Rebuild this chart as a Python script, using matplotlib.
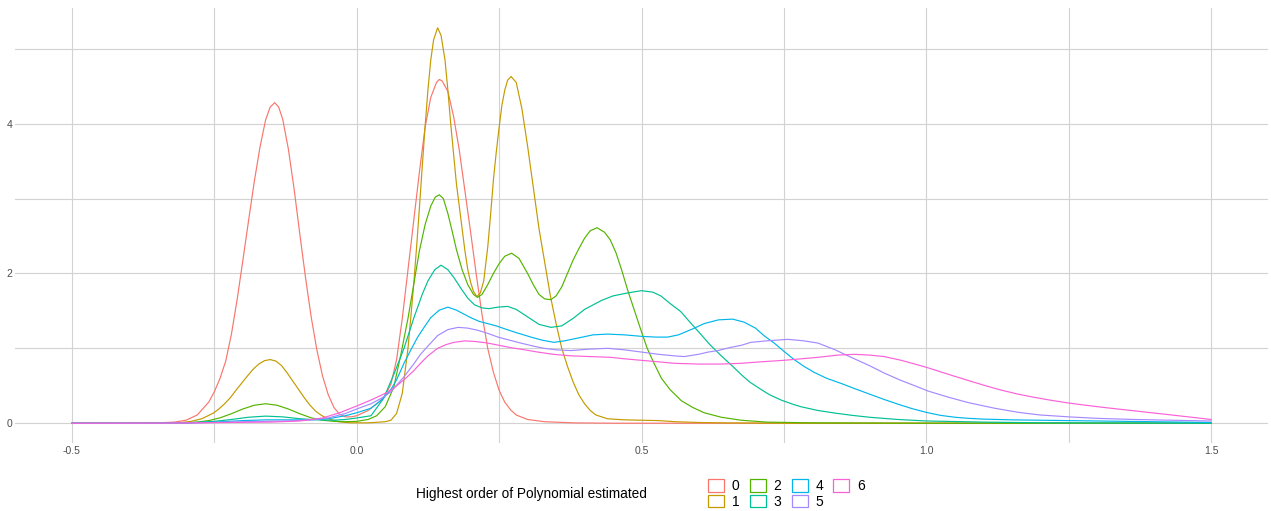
import matplotlib
matplotlib.use("Agg")
import matplotlib.pyplot as plt
from matplotlib.patches import Patch

plt.rcParams['font.family'] = ['Liberation Sans', 'DejaVu Sans']

# densities of the estimated value, one per polynomial order
x_0 = [-0.5, -0.4, -0.35, -0.32, -0.30, -0.28, -0.26, -0.25, -0.24, -0.23, -0.22, -0.21, -0.20, -0.19, -0.18,
       -0.17, -0.16, -0.152, -0.144, -0.137, -0.13, -0.12, -0.11, -0.10, -0.09, -0.08, -0.07, -0.06,
       -0.05, -0.04, -0.03, -0.02, -0.01, 0.0, 0.02, 0.04, 0.05, 0.06, 0.07, 0.08, 0.09, 0.10, 0.11, 0.12,
       0.13, 0.14, 0.145, 0.15, 0.16, 0.17, 0.18, 0.19, 0.20, 0.21, 0.22, 0.23, 0.24, 0.25, 0.26, 0.27, 0.28,
       0.30, 0.33, 0.38, 0.45, 0.6, 1.0, 1.5]
y_0 = [0, 0, 0.005, 0.015, 0.04, 0.11, 0.28, 0.42, 0.6, 0.83, 1.19, 1.65, 2.17, 2.7, 3.22,
       3.68, 4.05, 4.22, 4.28, 4.22, 4.06, 3.66, 3.13, 2.53, 1.95, 1.42, 0.98, 0.63,
       0.38, 0.21, 0.12, 0.085, 0.085, 0.10, 0.17, 0.29, 0.37, 0.52, 0.85, 1.4, 2.05, 2.7, 3.35, 3.95,
       4.35, 4.55, 4.59, 4.57, 4.43, 4.1, 3.65, 3.1, 2.55, 1.98, 1.45, 1.0, 0.68, 0.44, 0.28, 0.18, 0.11,
       0.05, 0.02, 0.005, 0, 0, 0, 0]

x_1 = [-0.5, -0.38, -0.312, -0.292, -0.272, -0.252, -0.242, -0.232, -0.222, -0.212, -0.202, -0.192, -0.182,
       -0.172, -0.162, -0.152, -0.142, -0.132, -0.122, -0.112, -0.102, -0.092, -0.082, -0.072, -0.062,
       -0.052, -0.032, -0.012, 0.02, 0.05, 0.06, 0.07, 0.08, 0.09, 0.095, 0.10, 0.105, 0.11, 0.115, 0.12,
       0.125, 0.13, 0.135, 0.142, 0.148, 0.155, 0.16, 0.165, 0.17, 0.175, 0.18, 0.185, 0.19, 0.195, 0.20,
       0.205, 0.211, 0.217, 0.223, 0.23, 0.235, 0.24, 0.245, 0.25, 0.255, 0.26, 0.265, 0.271, 0.28, 0.29,
       0.30, 0.31, 0.32, 0.33, 0.34, 0.35, 0.36, 0.37, 0.38, 0.39, 0.40, 0.41, 0.42, 0.44, 0.47, 0.50,
       0.53, 0.56, 0.60, 0.65, 0.75, 1.5]
y_1 = [0, 0, 0.007, 0.023, 0.06, 0.134, 0.19, 0.26, 0.34, 0.44, 0.535, 0.63, 0.72,
       0.79, 0.835, 0.85, 0.83, 0.77, 0.67, 0.56, 0.45, 0.34, 0.24, 0.16, 0.105,
       0.065, 0.02, 0.006, 0.005, 0.02, 0.04, 0.13, 0.4, 1.0, 1.42, 1.85, 2.34, 2.87, 3.42, 3.96,
       4.45, 4.85, 5.12, 5.28, 5.18, 4.85, 4.45, 4.0, 3.6, 3.2, 2.9, 2.6, 2.3, 2.05, 1.88,
       1.76, 1.69, 1.74, 1.9, 2.35, 2.78, 3.25, 3.62, 3.95, 4.25, 4.45, 4.58, 4.63, 4.55, 4.2,
       3.7, 3.15, 2.6, 2.15, 1.7, 1.33, 1.0, 0.76, 0.55, 0.38, 0.26, 0.17, 0.11, 0.06, 0.045, 0.04,
       0.035, 0.02, 0.01, 0.004, 0, 0]

x_2 = [-0.5, -0.35, -0.30, -0.28, -0.26, -0.24, -0.22, -0.20, -0.18, -0.16, -0.14, -0.12, -0.10, -0.08,
       -0.06, -0.04, -0.02, 0.0, 0.02, 0.035, 0.05, 0.065, 0.077, 0.09, 0.10, 0.11, 0.12, 0.13, 0.138, 0.145,
       0.152, 0.16, 0.168, 0.175, 0.185, 0.195, 0.205, 0.212, 0.22, 0.23, 0.24, 0.25, 0.26, 0.272, 0.285,
       0.30, 0.31, 0.32, 0.33, 0.341, 0.35, 0.36, 0.37, 0.38, 0.39, 0.40, 0.41, 0.422, 0.435, 0.445, 0.455,
       0.465, 0.476, 0.49, 0.50, 0.51, 0.522, 0.535, 0.55, 0.57, 0.59, 0.61, 0.64, 0.675, 0.72, 0.8, 1.0, 1.5]
y_2 = [0, 0, 0.005, 0.015, 0.035, 0.072, 0.127, 0.19, 0.24, 0.26, 0.24, 0.19, 0.127, 0.072,
       0.04, 0.025, 0.02, 0.025, 0.05, 0.1, 0.22, 0.48, 0.9, 1.4, 1.85, 2.3, 2.65, 2.9, 3.02, 3.05,
       3.0, 2.8, 2.55, 2.32, 2.05, 1.85, 1.72, 1.68, 1.72, 1.85, 2.0, 2.13, 2.23, 2.27, 2.2,
       2.0, 1.85, 1.72, 1.66, 1.65, 1.7, 1.82, 2.0, 2.18, 2.33, 2.47, 2.57, 2.61, 2.55, 2.45, 2.28,
       2.05, 1.77, 1.45, 1.22, 1.0, 0.8, 0.6, 0.45, 0.3, 0.21, 0.14, 0.08, 0.04, 0.015, 0.005, 0, 0]

x_3 = [-0.5, -0.35, -0.30, -0.25, -0.22, -0.19, -0.16, -0.13, -0.10, -0.07, -0.04, -0.02, 0.0, 0.025, 0.047,
       0.065, 0.083, 0.10, 0.115, 0.125, 0.137, 0.148, 0.16, 0.171, 0.183, 0.195, 0.207, 0.22, 0.232, 0.248,
       0.265, 0.28, 0.30, 0.32, 0.341, 0.36, 0.38, 0.40, 0.43, 0.45, 0.476, 0.50, 0.52, 0.534, 0.55,
       0.569, 0.585, 0.605, 0.62, 0.64, 0.66, 0.675, 0.69, 0.71, 0.725, 0.745, 0.765, 0.78, 0.81, 0.84,
       0.87, 0.9, 0.95, 1.0, 1.1, 1.2, 1.5]
y_3 = [0, 0, 0.005, 0.025, 0.05, 0.08, 0.095, 0.085, 0.06, 0.045, 0.04, 0.05, 0.07, 0.1, 0.33,
       0.65, 1.0, 1.4, 1.72, 1.9, 2.05, 2.11, 2.05, 1.94, 1.8, 1.67, 1.58, 1.54, 1.53, 1.55,
       1.56, 1.52, 1.42, 1.32, 1.28, 1.3, 1.4, 1.52, 1.64, 1.7, 1.74, 1.77, 1.75, 1.7, 1.6,
       1.49, 1.35, 1.18, 1.05, 0.9, 0.76, 0.65, 0.55, 0.45, 0.38, 0.31, 0.255, 0.22, 0.17, 0.135,
       0.105, 0.08, 0.05, 0.03, 0.015, 0.006, 0]

x_4 = [-0.5, -0.35, -0.30, -0.25, -0.20, -0.16, -0.12, -0.08, -0.05, -0.02, 0.0, 0.025, 0.045, 0.06, 0.07,
       0.083, 0.095, 0.107, 0.12, 0.13, 0.145, 0.16, 0.175, 0.19, 0.20, 0.215, 0.23, 0.245, 0.26, 0.28,
       0.306, 0.325, 0.346, 0.365, 0.39, 0.415, 0.44, 0.47, 0.50, 0.525, 0.546, 0.565, 0.59, 0.61, 0.635,
       0.66, 0.68, 0.70, 0.715, 0.733, 0.75, 0.768, 0.785, 0.803, 0.825, 0.851, 0.875, 0.9, 0.925, 0.95,
       0.975, 1.0, 1.025, 1.05, 1.075, 1.1, 1.15, 1.2, 1.3, 1.4, 1.5]
y_4 = [0, 0, 0.003, 0.015, 0.035, 0.045, 0.045, 0.045, 0.06, 0.1, 0.14, 0.2, 0.32, 0.45, 0.58,
       0.8, 0.98, 1.15, 1.3, 1.41, 1.51, 1.55, 1.51, 1.45, 1.41, 1.36, 1.33, 1.3, 1.26, 1.21,
       1.15, 1.11, 1.08, 1.1, 1.14, 1.18, 1.19, 1.18, 1.16, 1.15, 1.15, 1.18, 1.26, 1.33, 1.38,
       1.39, 1.35, 1.27, 1.17, 1.07, 0.96, 0.85, 0.76, 0.68, 0.6, 0.53, 0.46, 0.39, 0.32, 0.255,
       0.195, 0.145, 0.105, 0.08, 0.065, 0.055, 0.045, 0.04, 0.03, 0.02, 0.01]

x_5 = [-0.5, -0.35, -0.30, -0.25, -0.20, -0.16, -0.12, -0.08, -0.05, -0.02, 0.0, 0.025, 0.045, 0.06, 0.083,
       0.1, 0.112, 0.125, 0.142, 0.16, 0.178, 0.195, 0.213, 0.23, 0.248, 0.268, 0.288, 0.31, 0.329, 0.35,
       0.376, 0.41, 0.441, 0.47, 0.5, 0.53, 0.557, 0.575, 0.6, 0.617, 0.634, 0.655, 0.675, 0.692, 0.72,
       0.757, 0.785, 0.81, 0.84, 0.868, 0.9, 0.926, 0.956, 0.98, 1.003, 1.04, 1.074, 1.12, 1.162, 1.2,
       1.25, 1.3, 1.366, 1.43, 1.5]
y_5 = [0, 0, 0.002, 0.01, 0.02, 0.025, 0.03, 0.045, 0.07, 0.13, 0.19, 0.26, 0.34, 0.42, 0.62,
       0.79, 0.92, 1.03, 1.17, 1.25, 1.28, 1.27, 1.24, 1.2, 1.15, 1.11, 1.07, 1.03, 1.0, 0.98,
       0.97, 0.99, 1.0, 0.98, 0.95, 0.92, 0.9, 0.89, 0.92, 0.95, 0.97, 1.01, 1.04, 1.08, 1.1,
       1.12, 1.1, 1.07, 0.98, 0.88, 0.77, 0.67, 0.57, 0.5, 0.43, 0.345, 0.275, 0.2, 0.145, 0.11,
       0.085, 0.065, 0.05, 0.04, 0.03]

x_6 = [-0.5, -0.35, -0.30, -0.25, -0.20, -0.15, -0.10, -0.06, -0.03, 0.0, 0.025, 0.045, 0.06, 0.083, 0.1,
       0.112, 0.125, 0.142, 0.157, 0.171, 0.19, 0.21, 0.23, 0.25, 0.27, 0.295, 0.318, 0.345, 0.376, 0.41,
       0.446, 0.47, 0.5, 0.53, 0.557, 0.6, 0.64, 0.675, 0.71, 0.75, 0.78, 0.81, 0.845, 0.874, 0.9,
       0.926, 0.956, 0.98, 1.003, 1.04, 1.074, 1.1, 1.13, 1.16, 1.19, 1.22, 1.25, 1.28, 1.307, 1.336,
       1.366, 1.395, 1.425, 1.46, 1.5]
y_6 = [0, 0.002, 0.004, 0.008, 0.012, 0.015, 0.03, 0.07, 0.14, 0.23, 0.31, 0.38, 0.44, 0.58, 0.7,
       0.8, 0.9, 1.0, 1.05, 1.08, 1.1, 1.09, 1.07, 1.04, 1.01, 0.98, 0.95, 0.92, 0.9, 0.89,
       0.88, 0.86, 0.84, 0.82, 0.8, 0.79, 0.79, 0.8, 0.82, 0.84, 0.86, 0.88, 0.91, 0.92, 0.91,
       0.89, 0.84, 0.79, 0.74, 0.65, 0.57, 0.51, 0.445, 0.39, 0.345, 0.305, 0.27, 0.24, 0.215, 0.19,
       0.165, 0.14, 0.115, 0.085, 0.05]

ordenes = ['0', '1', '2', '3', '4', '5', '6']
colores = ['#F8766D', '#C49A00', '#53B400', '#00C094', '#00B6EB', '#A58AFF', '#FB61D7']
xs = [x_0, x_1, x_2, x_3, x_4, x_5, x_6]
ys = [y_0, y_1, y_2, y_3, y_4, y_5, y_6]

fig = plt.figure(figsize=(12.71, 5.11), dpi=100)
ax = fig.add_axes([15 / 1271, 1 - 443 / 511, 1253 / 1271, 435 / 511])

for xx, yy, c in zip(xs, ys, colores):
    ax.plot(xx, yy, color=c, lw=0.85, solid_joinstyle='round')

ax.set_xlim(-0.6, 1.6)
ax.set_ylim(-0.264, 5.544)
ax.set_xticks([-0.5, 0.0, 0.5, 1.0, 1.5])
ax.set_xticklabels(['-0.5', '0.0', '0.5', '1.0', '1.5'])
ax.set_yticks([0, 2, 4])
ax.set_xticks([-0.25, 0.25, 0.75, 1.25], minor=True)
ax.set_yticks([1, 3, 5], minor=True)
ax.grid(True, which='both', color='#D2D2D2', lw=0.8)
ax.set_axisbelow(True)
ax.tick_params(which='both', length=0, labelsize=7.5, labelcolor='#4D4D4D', pad=2)
for s in ax.spines.values():
    s.set_visible(False)

# leyenda abajo: titulo a la izquierda, cajas en 2 filas
fig.text(416 / 1271, 1 - 494 / 511, 'Highest order of Polynomial estimated',
         fontsize=9.8, va='center', ha='left', color='black')
handles = [Patch(facecolor='white', edgecolor=c, lw=0.9) for c in colores]
fig.legend(handles, ordenes, loc='center left', bbox_to_anchor=(708 / 1271, 1 - 494 / 511),
           ncol=4, frameon=False, fontsize=10, handlelength=1.15, handleheight=1.0,
           handletextpad=0.55, columnspacing=0.75, labelspacing=0.12, borderpad=0, borderaxespad=0)

fig.savefig('out.png', dpi=100, facecolor='white')
